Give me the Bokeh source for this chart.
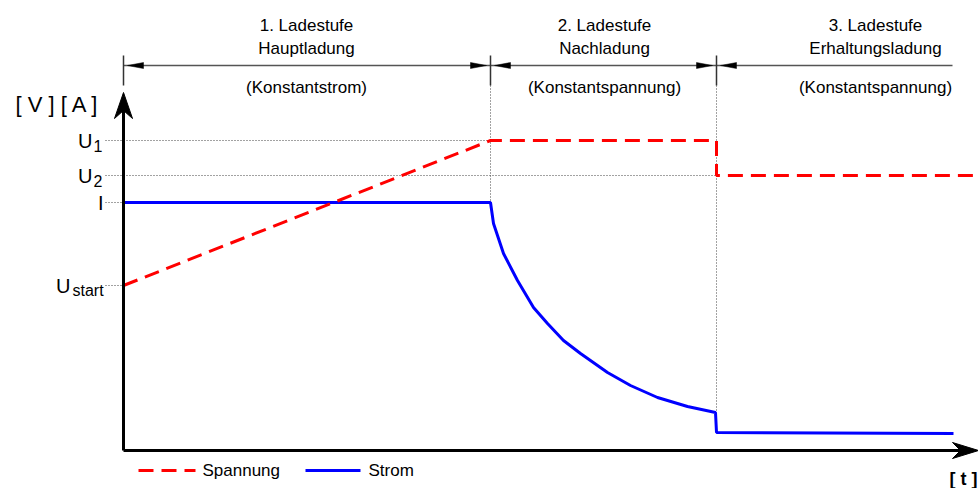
from bokeh.plotting import figure
from bokeh.models import Range1d, ColumnDataSource
from bokeh.core.properties import value
from bokeh.embed import file_html
from bokeh.resources import INLINE

# ---------------- data (time / level in chart units) ----------------
stage_bounds = [0, 367, 593]
dim_end = 829
stage_titles = ["1. Ladestufe", "2. Ladestufe", "3. Ladestufe"]
stage_names = ["Hauptladung", "Nachladung", "Erhaltungsladung"]
stage_modes = ["(Konstantstrom)", "(Konstantspannung)", "(Konstantspannung)"]
stage_label_t = [183, 481, 752]

u_start, u1, u2, i_const = 165, 310, 275, 248

volt_t = [0, 367, 593, 593, 855]
volt_v = [165, 310, 310, 275, 275]

curr_t = [0, 367, 370, 380, 394, 410, 424, 440, 457, 484, 507, 534, 564, 592, 593, 830]
curr_i = [248, 248, 227, 197, 170, 143, 127, 110, 97, 78, 65, 53, 44, 38, 18, 17]

ylab_main = ["U", "U", "I", "U"]
ylab_sub = ["1", "2", "", "start"]
ylab_val = [u1, u2, i_const, u_start]

legend_labels = ["Spannung", "Strom"]

FONT = "Liberation Sans, Arial, sans-serif"

# ---------------- figure ----------------
p = figure(width=978, height=488, output_backend="svg", toolbar_location=None,
           x_range=Range1d(-123, 855), y_range=Range1d(-38, 450),
           x_axis_location=None, y_axis_location=None, min_border=0)
p.grid.visible = False
p.outline_line_color = None
p.background_fill_color = "white"

# top dimension line
y_dim = 385
p.line([stage_bounds[0], dim_end], [y_dim, y_dim], line_color="#555555", line_width=1.5)
for b in stage_bounds:
    p.line([b, b], [395, 365], line_color="#333333", line_width=1.5)
# small arrow heads pointing at the stage borders
hx, hy = [], []
for k, b in enumerate(stage_bounds):
    hx.append([b + 4, b + 20, b + 20]); hy.append([y_dim, y_dim + 3, y_dim - 3])
    if k > 0:
        hx.append([b - 4, b - 20, b - 20]); hy.append([y_dim, y_dim + 3, y_dim - 3])
p.patches(hx, hy, fill_color="black", line_color="black", line_width=0.5)

# dotted guides
dot = dict(line_color="#444444", line_width=1, line_dash="1 2")
p.line([stage_bounds[1], stage_bounds[1]], [365, i_const], **dot)
p.line([stage_bounds[2], stage_bounds[2]], [365, curr_i[13]], **dot)
p.line([-18, stage_bounds[1]], [u1, u1], **dot)
p.line([-18, stage_bounds[2]], [u2, u2], **dot)
p.line([-18, 0], [i_const, i_const], **dot)
p.line([-18, 0], [u_start, u_start], **dot)

# curves
p.line(curr_t, curr_i, line_color="#0000ff", line_width=3)
p.line(volt_t, volt_v, line_color="#ff0000", line_width=3, line_dash="15 8")

# axes with arrow heads
p.line([0, 0], [0, 342], line_color="black", line_width=3)
p.line([0, 838], [0, 0], line_color="black", line_width=3)
p.patch([0, -9, 0, 9], [358, 332, 340, 332], fill_color="black", line_color="black")
p.patch([855, 829, 837, 829], [0, 8, 0, -8], fill_color="black", line_color="black")

# stage texts
src = ColumnDataSource(dict(x=stage_label_t, t=stage_titles, n=stage_names, m=stage_modes))
common = dict(text_font=value(FONT), text_font_size="17px", text_color="black",
              text_align="center", text_baseline="middle")
p.text(x="x", y=425, text="t", source=src, **common)
p.text(x="x", y=402, text="n", source=src, **common)
p.text(x="x", y=363, text="m", source=src, **common)

# y labels
main_x = [-31, -31, -20, -53]
sub_x = [-30, -30, -19, -51]
p.text(x=main_x, y=ylab_val, text=ylab_main, text_font=value(FONT), text_font_size="20px",
       text_align="right", text_baseline="middle", text_color="black")
p.text(x=sub_x, y=[v - 5 for v in ylab_val], text=ylab_sub, text_font=value(FONT),
       text_font_size="16px", text_align="left", text_baseline="middle", text_color="black")

# axis unit labels
p.text(x=[-108], y=[346], text=["[ V ] [ A ]"], text_font=value(FONT), text_font_size="22px",
       text_align="left", text_baseline="middle", text_color="black")
p.text(x=[854], y=[-28], text=["[ t ]"], text_font=value(FONT), text_font_size="18px",
       text_font_style="bold", text_align="right", text_baseline="middle", text_color="black")

# legend
p.line([15, 72], [-20, -20], line_color="#ff0000", line_width=3, line_dash="15 8")
p.line([182, 237], [-20, -20], line_color="#0000ff", line_width=3)
p.text(x=[79, 245], y=[-20, -20], text=legend_labels, text_font=value(FONT),
       text_font_size="17px", text_align="left", text_baseline="middle", text_color="black")

open("out.html", "w").write(file_html(p, INLINE))
